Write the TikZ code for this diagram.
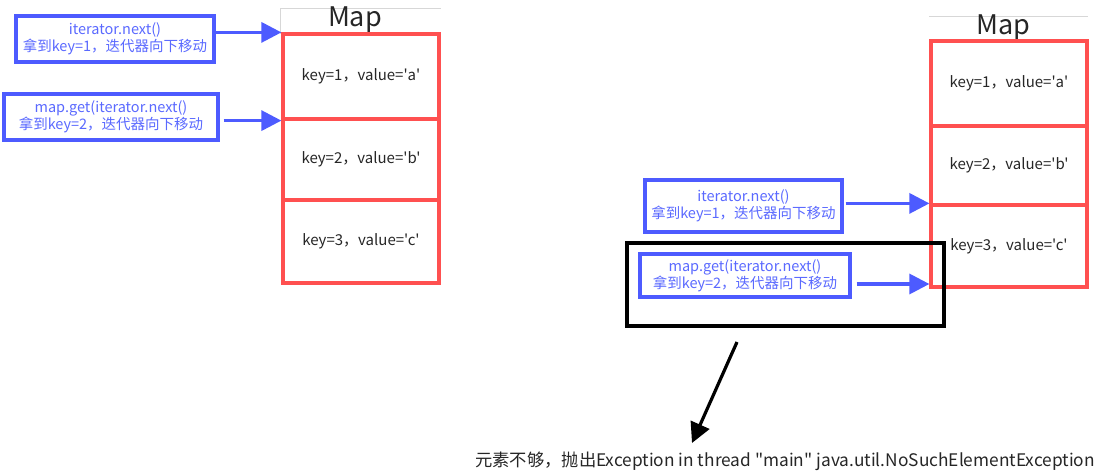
\documentclass[tikz,border=0pt]{standalone}
\usepackage{fontspec}
\setmainfont{Noto Sans CJK SC}[Ligatures=TeXOff]
\usetikzlibrary{arrows.meta}
\definecolor{bblue}{RGB}{77,91,255}
\definecolor{tblue}{RGB}{90,105,255}
\definecolor{rred}{RGB}{255,80,80}
\definecolor{lgray}{RGB}{215,215,215}
\tikzset{
  bluebox/.style={draw=bblue,line width=3.2pt,text=tblue,font=\fontsize{14.5}{17}\selectfont,align=center,inner sep=0pt},
  cell/.style={draw=rred,line width=3.2pt,minimum width=156pt,inner sep=0pt,font=\fontsize{15}{17}\selectfont,text=black!85},
  barrow/.style={draw=bblue,line width=3.2pt,-{Triangle[length=20pt,width=20pt]}},
  karrow/.style={draw=black,line width=3.2pt,-{Triangle[length=20pt,width=20pt]}},
  maptitle/.style={font=\fontsize{27}{29}\selectfont,text=black!85,inner sep=0pt},
}
\begin{document}
\begin{tikzpicture}[x=1pt,y=-1pt]
\useasboundingbox (0,0) rectangle (1100,473);
% left map
\draw[lgray,line width=0.8pt] (280,34) -- (280,8) -- (441,8);
\node[maptitle] (lmap) at (355,20) {Map};
\node[cell,minimum height=85pt] (l1) at (361,76.5) {key=1，value='a'};
\node[cell,minimum height=81pt] (l2) at (361,159.5) {key=2，value='b'};
\node[cell,minimum height=83pt] (l3) at (361,241.5) {key=3，value='c'};
\node[bluebox,minimum width=198pt,minimum height=46pt] (lb1) at (115,39) {iterator.next()\\拿到key=1，迭代器向下移动};
\node[bluebox,minimum width=214pt,minimum height=46pt] (lb2) at (111,117) {map.get(iterator.next()\\拿到key=2，迭代器向下移动};
\draw[barrow] (lb1.east |- l1.north west) -- (l1.north west);
\draw[barrow] ([xshift=4pt]lb2.east |- l1.south west) -- (l1.south west);
% right map
\draw[lgray,line width=0.8pt] (929,16) -- (1088,16);
\node[maptitle] (rmap) at (1003,28) {Map};
\node[cell,minimum height=85pt] (r1) at (1009,83.5) {key=1，value='a'};
\node[cell,minimum height=79pt] (r2) at (1009,165.5) {key=2，value='b'};
\node[cell,minimum height=82pt] (r3) at (1009,246) {key=3，value='c'};
\node[bluebox,minimum width=197pt,minimum height=52pt] (rb1) at (743.5,206) {iterator.next()\\拿到key=1，迭代器向下移动};
\node[bluebox,minimum width=210pt,minimum height=43pt] (rb2) at (745,275.5) {map.get(iterator.next()\\拿到key=2，迭代器向下移动};
\draw[barrow] ([xshift=2pt]rb1.east |- r3.north west) -- (r3.north west);
\draw[barrow] ([xshift=5pt]rb2.east |- 0,284) -- (r3.west |- 0,284);
\node[draw=black,line width=3.2pt,minimum width=317pt,minimum height=83pt,inner sep=0pt] (blk) at (785.5,284.5) {};
\coordinate (ks) at (737,342);
\coordinate (ke) at (692,443);
\draw[karrow] (ks) -- (ke);
\node[font=\fontsize{17.3}{19}\selectfont,text=black!85,inner sep=0pt] (msg) at (785,461) {元素不够，抛出Exception in thread "main" java.util.NoSuchElementException};
\end{tikzpicture}
\end{document}
